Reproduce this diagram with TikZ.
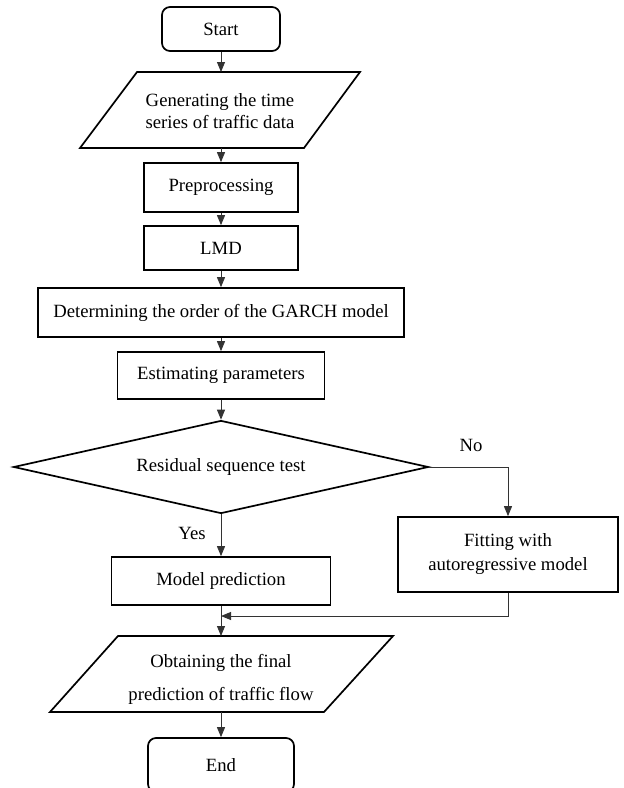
\documentclass[tikz,border=0pt]{standalone}
\usepackage{fontspec}
\setmainfont{Liberation Serif}
\usetikzlibrary{arrows.meta,shapes.geometric}
\begin{document}
\begin{tikzpicture}[x=1pt,y=-1pt,
  every node/.style={font=\fontsize{18.7}{22}\selectfont},
  boxstyle/.style={draw=black,line width=1.7pt,rectangle,inner sep=0pt,align=center},
  termstyle/.style={boxstyle,rounded corners=8pt},
  shapeline/.style={draw=black,line width=1.7pt,line join=miter},
  conn/.style={draw=black!80,line width=0.9pt,-{Triangle[length=10pt,width=8pt]}},
  lbl/.style={inner sep=0pt}
]
\clip (0,0) rectangle (624,788);
\fill[white] (0,0) rectangle (624,788);

% Start
\node[termstyle,minimum width=118pt,minimum height=44pt] (start) at (221,29) {Start};

% Generating (parallelogram)
\draw[shapeline] (137,72) -- (360,72) -- (304,148) -- (80,148) -- cycle;
\coordinate (genT) at (221,72);
\coordinate (genB) at (221,148);
\node[lbl,align=center,font=\fontsize{18.7}{22}\selectfont] (gen) at (220,111) {Generating the time\\series of traffic data};

% Boxes
\node[boxstyle,minimum width=154pt,minimum height=49pt] (pre) at (221,187.5) {Preprocessing};
\node[boxstyle,minimum width=154pt,minimum height=44pt] (lmd) at (221,248) {LMD};
\node[boxstyle,minimum width=366pt,minimum height=49pt] (det) at (221,312.5) {Determining the order of the GARCH model};
\node[boxstyle,minimum width=207pt,minimum height=47pt] (est) at (221,375.5) {Estimating parameters};

% Diamond
\node[diamond,aspect=4.46,draw=black,line width=1.7pt,inner sep=0pt,minimum width=415pt,minimum height=93pt] (res) at (221,467) {Residual sequence test};

% Model prediction
\node[boxstyle,minimum width=219pt,minimum height=48pt] (mod) at (221,581) {Model prediction};

% Fitting
\node[boxstyle,minimum width=220pt,minimum height=75pt,font=\fontsize{18.7}{24}\selectfont] (fit) at (508,554.5) {Fitting with\\autoregressive model};

% Obtaining (parallelogram)
\draw[shapeline] (118,636) -- (393,636) -- (324,712) -- (50,712) -- cycle;
\coordinate (obtT) at (221,636);
\coordinate (obtB) at (221,712);
\node[lbl,align=center,font=\fontsize{18.7}{33}\selectfont] (obt) at (221,679.5) {Obtaining the final\\prediction of traffic flow};

% End
\node[termstyle,minimum width=146pt,minimum height=54pt] (endn) at (221,765) {End};

% Connectors
\draw[conn] (start.south) -- (genT);
\draw[conn] (genB) -- (pre.north);
\draw[conn] (pre.south) -- (lmd.north);
\draw[conn] (lmd.south) -- (det.north);
\draw[conn] (det.south) -- (est.north);
\draw[conn] (est.south) -- (res.north);
\draw[conn] (res.south) -- (mod.north);
\draw[conn] (res.east) -| (fit.north);
\coordinate (merge) at (221,616);
\draw[conn] (fit.south) |- (merge);
\draw[conn] (mod.south) -- (obtT);
\draw[conn] (obtB) -- (endn.north);

% Labels
\node[lbl] (nolbl) at (471,445) {No};
\node[lbl] (yeslbl) at (192,533) {Yes};
\end{tikzpicture}
\end{document}
